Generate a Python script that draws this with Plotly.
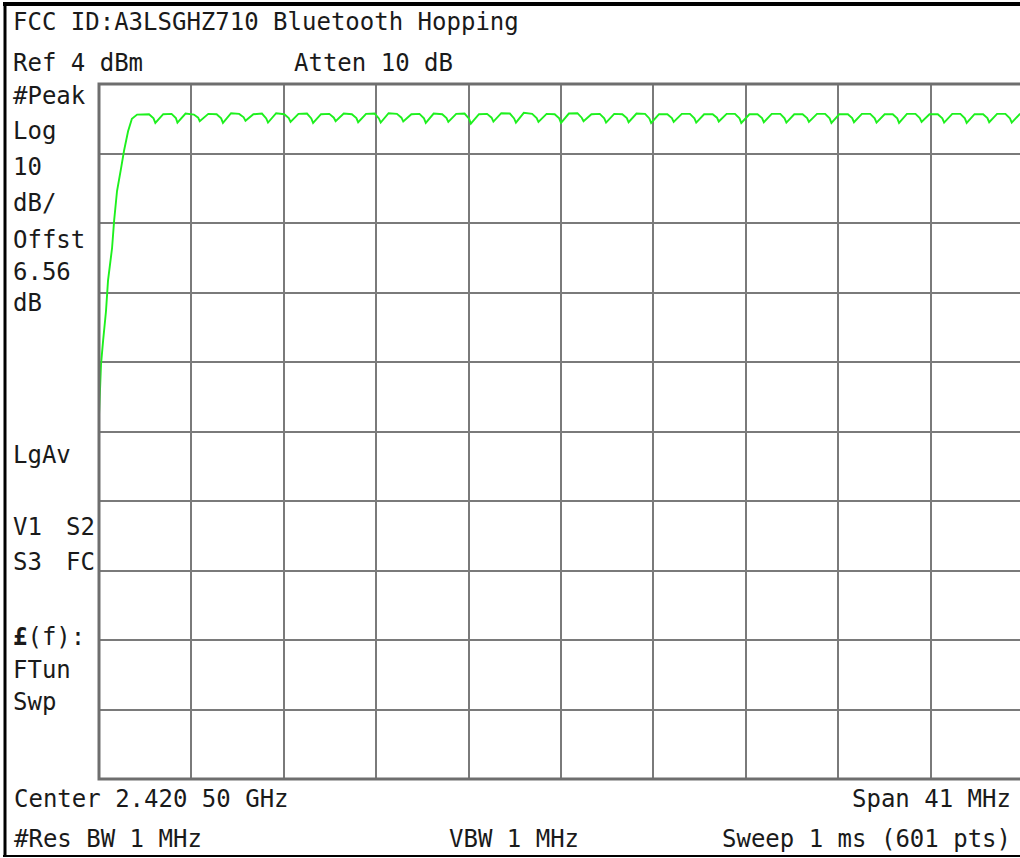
import plotly.graph_objects as go

# ---- data (MHz, dBm) ----
freq_mhz = [
    2400.00, 2400.09, 2400.18, 2400.31, 2400.40, 2400.58, 2400.67, 2400.80, 2400.98, 2401.11,
    2401.29, 2401.46, 2401.69,
    2402.22, 2402.42, 2402.50,
    2402.85, 2403.22, 2403.41, 2403.48,
    2403.84, 2404.21, 2404.40, 2404.47,
    2404.85, 2405.22, 2405.42, 2405.50,
    2405.86, 2406.22, 2406.42, 2406.50,
    2406.85, 2407.23, 2407.42, 2407.50,
    2407.86, 2408.22, 2408.42, 2408.50,
    2408.85, 2409.23, 2409.42, 2409.50,
    2409.85, 2410.22, 2410.42, 2410.50,
    2410.86, 2411.22, 2411.42, 2411.50,
    2411.85, 2412.23, 2412.42, 2412.50,
    2412.85, 2413.22, 2413.42, 2413.50,
    2413.86, 2414.22, 2414.42, 2414.50,
    2414.85, 2415.23, 2415.42, 2415.50,
    2415.85, 2416.22, 2416.42, 2416.50,
    2416.86, 2417.22, 2417.42, 2417.50,
    2417.85, 2418.23, 2418.42, 2418.50,
    2418.85, 2419.22, 2419.42, 2419.50,
    2419.86, 2420.22, 2420.42, 2420.50,
    2420.85, 2421.23, 2421.42, 2421.50,
    2421.85, 2422.22, 2422.42, 2422.50,
    2422.86, 2423.22, 2423.42, 2423.50,
    2423.85, 2424.23, 2424.42, 2424.50,
    2424.85, 2425.22, 2425.42, 2425.50,
    2425.86, 2426.22, 2426.42, 2426.50,
    2426.85, 2427.23, 2427.42, 2427.50,
    2427.85, 2428.22, 2428.42, 2428.50,
    2428.86, 2429.22, 2429.42, 2429.50,
    2429.85, 2430.23, 2430.42, 2430.50,
    2430.85, 2431.22, 2431.42, 2431.50,
    2431.86, 2432.22, 2432.42, 2432.50,
    2432.85, 2433.23, 2433.42, 2433.50,
    2433.85, 2434.22, 2434.42, 2434.50,
    2434.86, 2435.22, 2435.42, 2435.50,
    2435.85, 2436.23, 2436.42, 2436.50,
    2436.85, 2437.22, 2437.42, 2437.50,
    2437.86, 2438.22, 2438.42, 2438.50,
    2438.85, 2439.23, 2439.42, 2439.50,
    2439.85, 2440.22, 2440.42, 2440.50,
    2440.85, 2441.00,
]
level_dbm = [
    -43.7, -36.3, -33.0, -28.7, -24.3, -19.6, -15.7, -11.4, -8.1, -5.6,
    -2.8, -1.0, -0.4,
    -0.35, -0.95, -1.60,
    -0.35, -0.30, -0.90, -1.55,
    -0.25, -0.40, -0.85, -1.35,
    -0.30, -0.35, -0.95, -1.60,
    -0.20, -0.30, -0.80, -1.30,
    -0.35, -0.25, -0.95, -1.55,
    -0.20, -0.35, -0.90, -1.45,
    -0.30, -0.25, -0.95, -1.60,
    -0.35, -0.30, -0.85, -1.35,
    -0.25, -0.35, -0.90, -1.50,
    -0.30, -0.25, -0.95, -1.55,
    -0.20, -0.30, -0.85, -1.40,
    -0.35, -0.30, -0.95, -1.60,
    -0.25, -0.35, -0.90, -1.45,
    -0.30, -0.25, -1.00, -1.70,
    -0.35, -0.30, -0.85, -1.40,
    -0.20, -0.25, -0.95, -1.55,
    -0.15, -0.30, -0.90, -1.45,
    -0.30, -0.35, -0.95, -1.60,
    -0.25, -0.20, -0.85, -1.35,
    -0.35, -0.30, -0.95, -1.55,
    -0.30, -0.35, -0.90, -1.50,
    -0.25, -0.30, -0.95, -1.60,
    -0.35, -0.35, -0.90, -1.45,
    -0.30, -0.30, -0.95, -1.55,
    -0.35, -0.35, -0.85, -1.40,
    -0.30, -0.30, -0.95, -1.60,
    -0.35, -0.35, -0.90, -1.50,
    -0.30, -0.30, -0.95, -1.55,
    -0.35, -0.35, -0.90, -1.45,
    -0.30, -0.30, -0.95, -1.60,
    -0.35, -0.35, -0.90, -1.50,
    -0.30, -0.30, -0.95, -1.55,
    -0.35, -0.35, -0.95, -1.60,
    -0.30, -0.30, -0.90, -1.45,
    -0.35, -0.35, -0.95, -1.55,
    -0.30, -0.30, -0.95, -1.60,
    -0.35, -0.35, -0.90, -1.50,
    -0.30, -0.30, -0.95, -1.55,
    -0.35, -0.35,
]

ref_level = 4
db_per_div = 10
start_mhz = 2400.0
span_mhz = 41.0

title_text = "FCC ID:A3LSGHZ710 Bluetooth Hopping"
left_labels = ["#Peak", "Log", "10", "dB/", "Offst", "6.56", "dB", "LgAv",
               "V1", "S3", "<b>£</b>(f):", "FTun", "Swp"]

# ---- layout geometry (pixels) ----
W, H = 1020, 858
L, T, B = 99, 84, 79
PW = W - L
PH = H - T - B
full_w = 924  # full plot width; the right part is cropped in the reference
x_end = start_mhz + span_mhz * PW / full_w

def px(xp):
    return (xp - L) / PW

def py(yp):
    return (H - B - yp) / PH

fig = go.Figure()
fig.add_trace(go.Scatter(x=freq_mhz, y=level_dbm, mode="lines",
                         line=dict(color="#1ef01e", width=1.9), hoverinfo="skip"))

FONT = dict(family="DejaVu Sans Mono", size=24, color="#1a1a1a")
ann = []

def text(s, xp, yp, anchor="left"):
    ann.append(dict(text=s, x=px(xp), y=py(yp), xref="paper", yref="paper",
                    xanchor=anchor, yanchor="middle", showarrow=False, font=FONT))

text(title_text, 11, 22)
text("Ref 4 dBm", 11, 63)
text("Atten 10 dB", 292, 63)
left_y = [96, 131, 167, 203, 240, 272, 303, 455, 527, 562, 637, 670, 702]
for s, yy in zip(left_labels, left_y):
    text(s, 11, yy)
text("S2", 64, 527)
text("FC", 64, 562)
text("Center 2.420 50 GHz", 12, 799)
text("#Res BW 1 MHz", 12, 839)
text("VBW 1 MHz", 447, 839)
text("Span 41 MHz", 1013, 799, "right")
text("Sweep 1 ms (601 pts)", 1013, 839, "right")

shapes = [
    # plot frame (gray)
    dict(type="rect", xref="paper", yref="paper", x0=0, y0=0, x1=1.02, y1=1,
         line=dict(color="#6e6e6e", width=3), layer="above"),
    # outer black border
    dict(type="line", xref="paper", yref="paper", x0=px(5), x1=px(5), y0=py(2), y1=py(857),
         line=dict(color="#000000", width=3)),
    dict(type="line", xref="paper", yref="paper", x0=px(3), x1=1.02, y0=py(4), y1=py(4),
         line=dict(color="#000000", width=4)),
    dict(type="line", xref="paper", yref="paper", x0=px(3), x1=1.02, y0=py(856), y1=py(856),
         line=dict(color="#000000", width=2)),
]

fig.update_layout(
    width=W, height=H,
    margin=dict(l=L, r=0, t=T, b=B, pad=0),
    paper_bgcolor="white", plot_bgcolor="white",
    showlegend=False,
    annotations=ann, shapes=shapes,
    xaxis=dict(range=[start_mhz, x_end], tick0=start_mhz, dtick=span_mhz / 10,
               showgrid=True, gridcolor="#7a7a7a", gridwidth=1.6,
               showticklabels=False, ticks="", zeroline=False, showline=False, fixedrange=True),
    yaxis=dict(range=[ref_level - 10 * db_per_div, ref_level], tick0=ref_level, dtick=db_per_div,
               showgrid=True, gridcolor="#7a7a7a", gridwidth=1.6,
               showticklabels=False, ticks="", zeroline=False, showline=False, fixedrange=True),
)

fig.write_html("out.html", config={"displayModeBar": False},
               post_script="document.body.style.margin='0';document.body.style.overflow='hidden';")
